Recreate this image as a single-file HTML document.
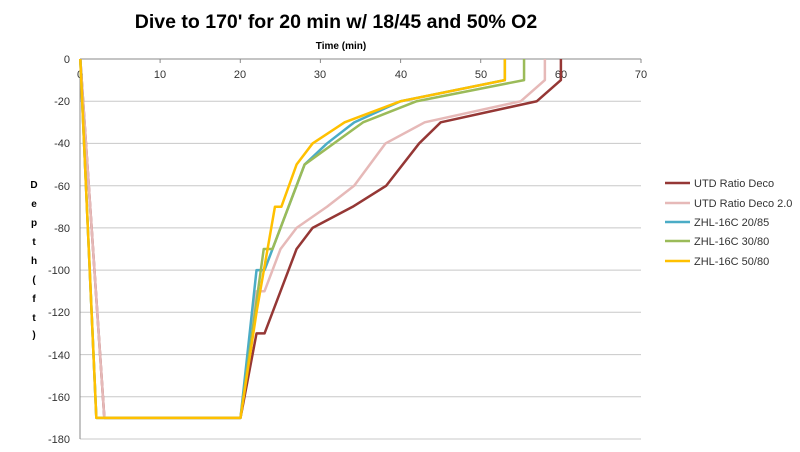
<!DOCTYPE html>
<html><head><style>body{margin:0;background:#fff}svg{display:block}text{font-family:"Liberation Sans",sans-serif}</style></head><body>
<svg width="800" height="452" viewBox="0 0 800 452">
<text x="336" y="28" font-size="19.5" font-weight="bold" text-anchor="middle" fill="#000">Dive to 170' for 20 min w/ 18/45 and 50% O2</text>
<text x="341" y="49" font-size="10" font-weight="bold" text-anchor="middle">Time (min)</text>
<g stroke="#c8c8c8" stroke-width="1">
<line x1="80" y1="101.2" x2="641" y2="101.2"/><line x1="80" y1="143.4" x2="641" y2="143.4"/><line x1="80" y1="185.7" x2="641" y2="185.7"/><line x1="80" y1="227.9" x2="641" y2="227.9"/><line x1="80" y1="270.1" x2="641" y2="270.1"/><line x1="80" y1="312.3" x2="641" y2="312.3"/><line x1="80" y1="354.6" x2="641" y2="354.6"/><line x1="80" y1="396.8" x2="641" y2="396.8"/><line x1="80" y1="439" x2="641" y2="439"/>
</g>
<g stroke="#888" stroke-width="1"><line x1="80" y1="59" x2="641" y2="59"/><line x1="80" y1="59" x2="80" y2="439"/>
<line x1="160.1" y1="59" x2="160.1" y2="63"/><line x1="240.3" y1="59" x2="240.3" y2="63"/><line x1="320.4" y1="59" x2="320.4" y2="63"/><line x1="400.6" y1="59" x2="400.6" y2="63"/><line x1="480.7" y1="59" x2="480.7" y2="63"/><line x1="560.9" y1="59" x2="560.9" y2="63"/><line x1="641" y1="59" x2="641" y2="63"/></g>
<g font-size="11" fill="#333" text-anchor="middle">
<text x="80" y="78">0</text><text x="160" y="78">10</text><text x="240" y="78">20</text><text x="320" y="78">30</text><text x="401" y="78">40</text><text x="481" y="78">50</text><text x="561" y="78">60</text><text x="641" y="78">70</text></g>
<g font-size="11" fill="#333" text-anchor="end">
<text x="70" y="63">0</text><text x="70" y="105">-20</text><text x="70" y="147">-40</text><text x="70" y="190">-60</text><text x="70" y="232">-80</text><text x="70" y="274">-100</text><text x="70" y="316">-120</text><text x="70" y="359">-140</text><text x="70" y="401">-160</text><text x="70" y="443">-180</text></g>
<g font-size="10" font-weight="bold" text-anchor="middle">
<text x="34" y="188">D</text><text x="34" y="207">e</text><text x="34" y="226">p</text><text x="34" y="245">t</text><text x="34" y="264">h</text><text x="34" y="283">(</text><text x="34" y="302">f</text><text x="34" y="321">t</text><text x="34" y="338">)</text></g>
<g transform="translate(80.3,59) scale(8.01,2.111)" fill="none" stroke-width="2.5" stroke-linejoin="round">
<g transform="scale(1,-1)">
<polyline vector-effect="non-scaling-stroke" stroke="#953735" stroke-width="2.5" points="0,0 3,-170 20,-170 22,-130 23,-130 25,-110 27,-90 29,-80 34,-70 38.2,-60 42.3,-40 45,-30 57,-20 60,-10 60,0"/>
<polyline vector-effect="non-scaling-stroke" stroke="#e6b9b8" stroke-width="2.5" points="0,0 3,-170 20,-170 22,-110 23,-110 25,-90 27,-80 30.8,-70 34.2,-60 38.1,-40 43,-30 55,-20 58,-10 58,0"/>
<polyline vector-effect="non-scaling-stroke" stroke="#4bacc6" stroke-width="2.5" points="0,0 2,-170 20,-170 22,-100 23,-100 24,-90 28,-50 30.8,-40 34.2,-30 40,-20 53,-10 53,0"/>
<polyline vector-effect="non-scaling-stroke" stroke="#9bbb59" stroke-width="2.5" points="0,0 2,-170 20,-170 22.9,-90 24,-90 28,-50 35.3,-30 42,-20 55.4,-10 55.4,0"/>
<polyline vector-effect="non-scaling-stroke" stroke="#ffc000" stroke-width="2.5" points="0,0 2,-170 20,-170 22,-120 24.3,-70 25.1,-70 27,-50 29,-40 33,-30 40,-20 53,-10 53,0"/>
</g></g>
<g stroke-width="2.5"><line x1="665" y1="183" x2="690" y2="183" stroke="#953735"/><line x1="665" y1="203" x2="690" y2="203" stroke="#e6b9b8"/><line x1="665" y1="222" x2="690" y2="222" stroke="#4bacc6"/><line x1="665" y1="241" x2="690" y2="241" stroke="#9bbb59"/><line x1="665" y1="261" x2="690" y2="261" stroke="#ffc000"/></g>
<g font-size="11" fill="#333"><text x="694" y="187">UTD Ratio Deco</text><text x="694" y="207">UTD Ratio Deco 2.0</text><text x="694" y="226">ZHL-16C 20/85</text><text x="694" y="245">ZHL-16C 30/80</text><text x="694" y="265">ZHL-16C 50/80</text></g>
</svg></body></html>
